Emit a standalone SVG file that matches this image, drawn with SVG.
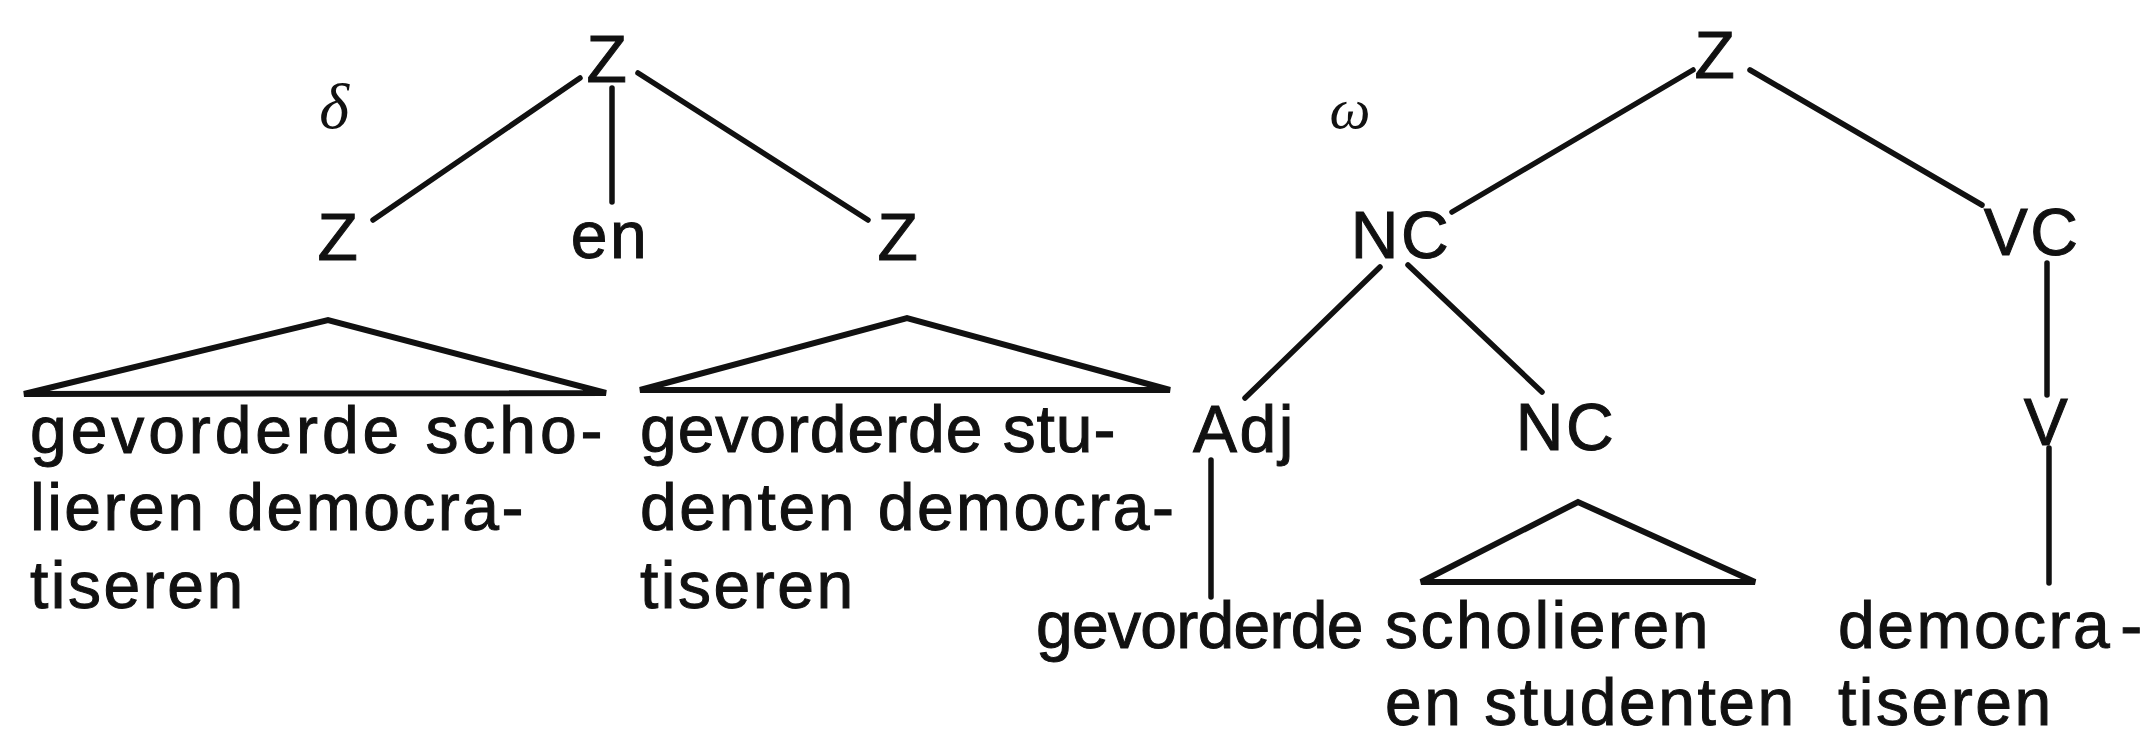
<svg xmlns="http://www.w3.org/2000/svg" width="2153" height="736" viewBox="0 0 2153 736">
  <style>
    .lbl { font-family: "Liberation Sans", Arial, sans-serif; font-size: 66px; fill: #111; stroke: #111; stroke-width: 1; letter-spacing: 2.5px; }
    .mid { text-anchor: middle; }
    .greek { font-family: "Liberation Serif", "DejaVu Serif", serif; font-style: italic; fill: #111; text-anchor: middle; }
    .edge { stroke: #111; stroke-width: 5.5; stroke-linecap: round; fill: none; }
    .tri { stroke: #111; stroke-width: 6; stroke-linejoin: miter; fill: none; }
  </style>
  <rect width="2153" height="736" fill="#fff"/>

  <!-- connectors -->
  <g id="connectors">
    <!-- delta tree -->
    <line class="edge" x1="580" y1="78" x2="373" y2="220"/>
    <line class="edge" x1="612" y1="88" x2="612" y2="202"/>
    <line class="edge" x1="638" y1="73" x2="868" y2="220"/>
    <polygon class="tri" points="24,394 328,320 606,393"/>
    <polygon class="tri" points="640,390 907,318 1170,390"/>
    <!-- omega tree -->
    <line class="edge" x1="1693" y1="70" x2="1452" y2="212"/>
    <line class="edge" x1="1750" y1="70" x2="1982" y2="205"/>
    <line class="edge" x1="1380" y1="267" x2="1245" y2="398"/>
    <line class="edge" x1="1408" y1="265" x2="1542" y2="392"/>
    <line class="edge" x1="2047" y1="263" x2="2047" y2="395"/>
    <line class="edge" x1="2049" y1="448" x2="2049" y2="583"/>
    <line class="edge" x1="1211" y1="460" x2="1211" y2="597"/>
    <polygon class="tri" points="1421,582 1578,502 1755,582"/>
  </g>

  <!-- delta tree nodes -->
  <g id="delta-label"><text class="greek" x="334" y="128" font-size="64">δ</text></g>
  <g id="d-root"><text class="lbl mid" x="608" y="82">Z</text></g>
  <g id="d-z1"><text class="lbl mid" x="339" y="260">Z</text></g>
  <g id="d-en"><text class="lbl mid" x="610" y="258">en</text></g>
  <g id="d-z2"><text class="lbl mid" x="899" y="260">Z</text></g>
  <g id="d-leaf1">
    <text class="lbl" x="30" y="453" textLength="575" lengthAdjust="spacing">gevorderde scho-</text>
    <text class="lbl" x="30" y="530">lieren democra-</text>
    <text class="lbl" x="30" y="608">tiseren</text>
  </g>
  <g id="d-leaf2">
    <text class="lbl" x="640" y="452" textLength="478" lengthAdjust="spacing">gevorderde stu-</text>
    <text class="lbl" x="640" y="530">denten democra-</text>
    <text class="lbl" x="640" y="608">tiseren</text>
  </g>

  <!-- omega tree nodes -->
  <g id="omega-label"><text class="greek" x="1350" y="128" font-size="58">ω</text></g>
  <g id="w-root"><text class="lbl mid" x="1716" y="78">Z</text></g>
  <g id="w-nc"><text class="lbl mid" x="1401" y="258">NC</text></g>
  <g id="w-vc"><text class="lbl mid" x="2032" y="255">VC</text></g>
  <g id="w-adj"><text class="lbl" x="1193" y="452">Adj</text></g>
  <g id="w-nc2"><text class="lbl mid" x="1566" y="450">NC</text></g>
  <g id="w-v"><text class="lbl mid" x="2047" y="445">V</text></g>
  <g id="w-leaf-adj"><text class="lbl" x="1036" y="648" textLength="330" lengthAdjust="spacing">gevorderde</text></g>
  <g id="w-leaf-nc">
    <text class="lbl" x="1385" y="648">scholieren</text>
    <text class="lbl" x="1385" y="725">en studenten</text>
  </g>
  <g id="w-leaf-v">
    <text class="lbl" x="1838" y="648">democra<tspan dx="8">-</tspan></text>
    <text class="lbl" x="1838" y="725">tiseren</text>
  </g>
</svg>
